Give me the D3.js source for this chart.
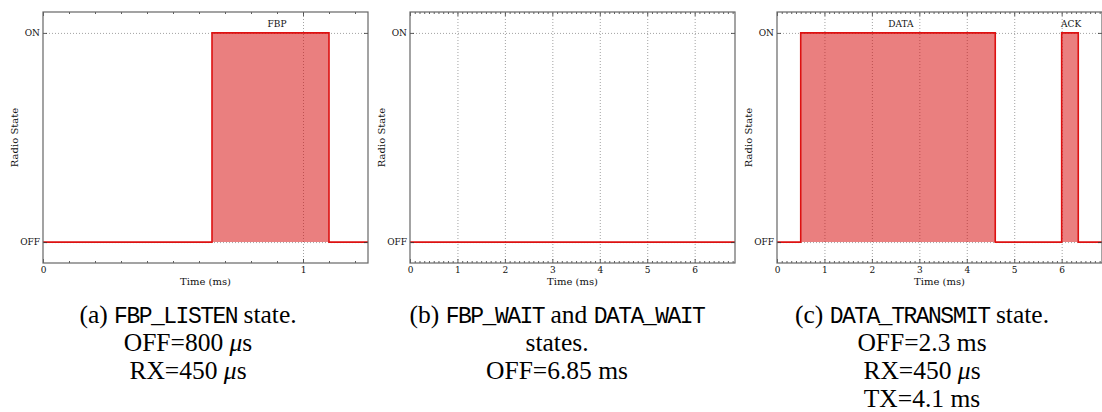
<!DOCTYPE html>
<html>
<head>
<meta charset="utf-8">
<script src="https://cdn.jsdelivr.net/npm/d3@7/dist/d3.min.js"></script>
<style>
  html, body { margin: 0; padding: 0; background: #fff; }
  svg { display: block; }
  .tick text { font-family: "DejaVu Serif", serif; font-size: 9px; fill: #111; }
  .axis path.domain { display: none; }
  .axis line { stroke: #333; stroke-width: 0.8; }
  .grid line { stroke: #8a8a8a; stroke-width: 0.8; stroke-dasharray: 1,2; }
  .grid path.domain { display: none; }
  .grid text { display: none; }
</style>
</head>
<body>
<svg id="fig" width="1102" height="412"></svg>
<script>
// Radio state levels (index = value on the y axis)
const stateLevels = ["OFF", "ON"];

// (a) FBP_LISTEN: state change instants (ms) and state after each instant
const listenTimes  = [0, 0.65, 1.10, 1.25];
const listenStates = [0, 1, 0, 0];

// (b) FBP_WAIT / DATA_WAIT: radio stays off the whole time
const waitTimes  = [0, 6.85];
const waitStates = [0, 0];

// (c) DATA_TRANSMIT: DATA frame then ACK reception
const transmitTimes  = [0, 0.5, 4.6, 6.0, 6.35, 6.85];
const transmitStates = [0, 1, 0, 1, 0, 0];

// Burst annotations (ms position of each label)
const listenBurstNames = ["FBP"];
const listenBurstAt    = [0.9];
const transmitBurstNames = ["DATA", "ACK"];
const transmitBurstAt    = [2.61, 6.2];

// Axis spans and major ticks (ms)
const spanMs = [1.25, 6.85, 6.85];
const majorTicksA = [0, 1];
const majorTicksBC = [0, 1, 2, 3, 4, 5, 6];

// Sub-captions, one array of lines per panel
const captionA = [
  [["(a) ", "rm"], ["FBP_LISTEN", "tt"], [" state.", "rm"]],
  [["OFF=800 ", "rm"], ["μ", "it"], ["s", "rm"]],
  [["RX=450 ", "rm"], ["μ", "it"], ["s", "rm"]]
];
const captionB = [
  [["(b) ", "rm"], ["FBP_WAIT", "tt"], [" and ", "rm"], ["DATA_WAIT", "tt"]],
  [["states.", "rm"]],
  [["OFF=6.85 ms", "rm"]]
];
const captionC = [
  [["(c) ", "rm"], ["DATA_TRANSMIT", "tt"], [" state.", "rm"]],
  [["OFF=2.3 ms", "rm"]],
  [["RX=450 ", "rm"], ["μ", "it"], ["s", "rm"]],
  [["TX=4.1 ms", "rm"]]
];

const panels = [
  { times: listenTimes, states: listenStates, span: spanMs[0], majors: majorTicksA,
    names: listenBurstNames, at: listenBurstAt, caption: captionA, left: 43, capX: 188 },
  { times: waitTimes, states: waitStates, span: spanMs[1], majors: majorTicksBC,
    names: [], at: [], caption: captionB, left: 410, capX: 557 },
  { times: transmitTimes, states: transmitStates, span: spanMs[2], majors: majorTicksBC,
    names: transmitBurstNames, at: transmitBurstAt, caption: captionC, left: 777, capX: 922 }
];

const plotW = 325, plotTop = 12, plotBottom = 263;
const lineColor = "#dd1111";
const fillColor = "#d60000";

const svg = d3.select("#fig");
svg.append("rect").attr("width", 1102).attr("height", 412).attr("fill", "#fff");

const fonts = {
  rm: { family: "Liberation Serif, serif", style: "normal", size: 25.5, spacing: 0 },
  tt: { family: "Liberation Mono, monospace", style: "normal", size: 23, spacing: -1.5 },
  it: { family: "Liberation Serif, serif", style: "italic", size: 25.5, spacing: 0 }
};

panels.forEach(p => {
  const g = svg.append("g").attr("transform", `translate(${p.left},0)`);
  const x = d3.scaleLinear().domain([0, p.span]).range([0, plotW]);
  const y = d3.scaleLinear().domain([-0.1, 1.1]).range([plotBottom, plotTop]);
  const H = plotBottom - plotTop;

  const minors = d3.range(0, p.span + 1e-9, 0.1)
    .map(v => Math.round(v * 10) / 10)
    .filter(v => !p.majors.includes(v));

  // grid
  g.append("g").attr("class", "grid")
    .attr("transform", `translate(0,${plotBottom})`)
    .call(d3.axisBottom(x).tickValues(p.majors.filter(v => v > 0)).tickSize(-H).tickFormat(""));
  g.append("g").attr("class", "grid")
    .call(d3.axisLeft(y).tickValues([0, 1]).tickSize(-plotW).tickFormat(""));

  const pts = p.times.map((t, i) => ({ t, s: p.states[i] }));

  // filled ON periods
  g.append("path")
    .datum(pts)
    .attr("fill", fillColor)
    .attr("fill-opacity", 0.5)
    .attr("d", d3.area().curve(d3.curveStepAfter)
      .x(d => x(d.t)).y0(y(0)).y1(d => y(d.s)));

  // state trace
  g.append("path")
    .datum(pts)
    .attr("fill", "none")
    .attr("stroke", lineColor)
    .attr("stroke-width", 1.6)
    .attr("d", d3.line().curve(d3.curveStepAfter).x(d => x(d.t)).y(d => y(d.s)));

  // burst labels
  p.names.forEach((n, i) => {
    g.append("text")
      .attr("x", x(p.at[i])).attr("y", 27)
      .attr("text-anchor", "middle")
      .attr("font-family", "DejaVu Serif, serif").attr("font-size", 9).attr("fill", "#111")
      .text(n);
  });

  // axes: ticks inward on all four sides
  g.append("g").attr("class", "axis").attr("transform", `translate(0,${plotBottom})`)
    .call(d3.axisBottom(x).tickValues(minors).tickSize(-2).tickFormat(""));
  g.append("g").attr("class", "axis").attr("transform", `translate(0,${plotBottom})`)
    .call(d3.axisBottom(x).tickValues(p.majors).tickSize(-4).tickPadding(4).tickFormat(d3.format("d")));
  g.append("g").attr("class", "axis").attr("transform", `translate(0,${plotTop})`)
    .call(d3.axisTop(x).tickValues(minors).tickSize(-2).tickFormat(""));
  g.append("g").attr("class", "axis").attr("transform", `translate(0,${plotTop})`)
    .call(d3.axisTop(x).tickValues(p.majors).tickSize(-4).tickFormat(""));
  g.append("g").attr("class", "axis")
    .call(d3.axisLeft(y).tickValues([0, 1]).tickSize(-4).tickPadding(3).tickFormat(i => stateLevels[i]));
  g.append("g").attr("class", "axis").attr("transform", `translate(${plotW},0)`)
    .call(d3.axisRight(y).tickValues([0, 1]).tickSize(-4).tickFormat(""));

  // frame
  g.append("rect").attr("x", 0).attr("y", plotTop).attr("width", plotW).attr("height", H)
    .attr("fill", "none").attr("stroke", "#666").attr("stroke-width", 1.2);

  // axis titles
  g.append("text")
    .attr("x", plotW / 2).attr("y", 285)
    .attr("text-anchor", "middle")
    .attr("font-family", "DejaVu Serif, serif").attr("font-size", 10).attr("fill", "#111")
    .text("Time (ms)");
  g.append("text")
    .attr("transform", `translate(-25,${(plotTop + plotBottom) / 2}) rotate(-90)`)
    .attr("text-anchor", "middle")
    .attr("font-family", "DejaVu Serif, serif").attr("font-size", 10).attr("fill", "#111")
    .text("Radio State");

  // sub-caption
  p.caption.forEach((line, li) => {
    const t = svg.append("text")
      .attr("x", p.capX).attr("y", 323 + li * 28)
      .attr("text-anchor", "middle")
      .attr("fill", "#000");
    line.forEach(([s, f]) => {
      t.append("tspan")
        .attr("font-family", fonts[f].family)
        .attr("font-style", fonts[f].style)
        .attr("font-size", fonts[f].size)
        .attr("letter-spacing", fonts[f].spacing)
        .text(s);
    });
  });
});
</script>
</body>
</html>
